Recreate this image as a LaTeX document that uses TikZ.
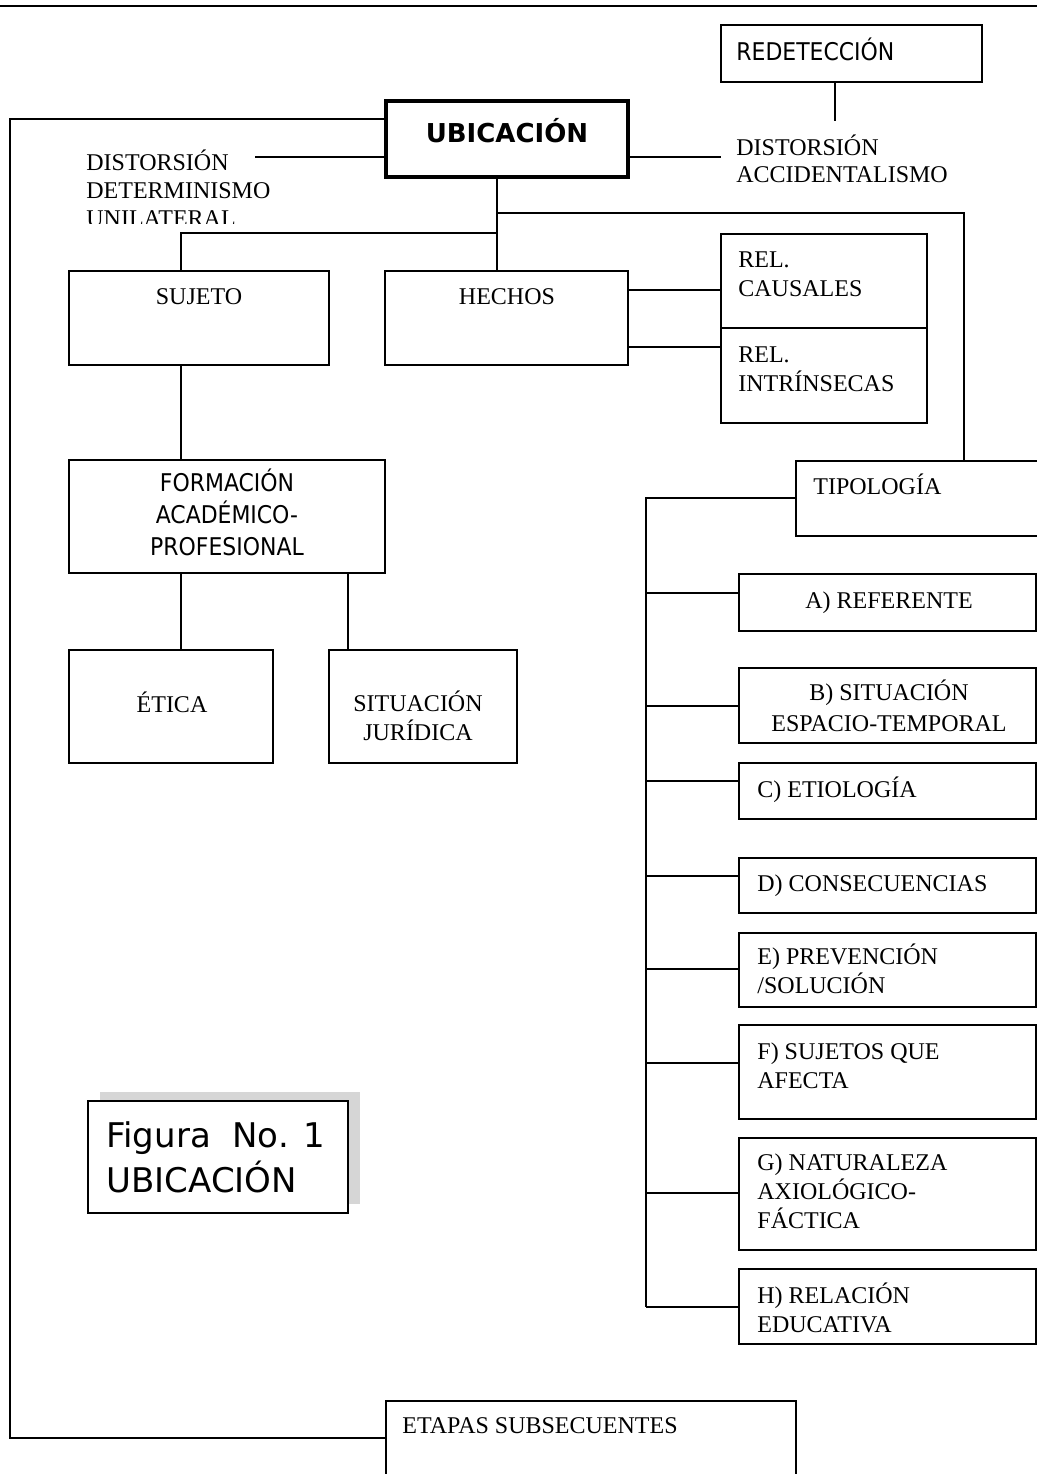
\documentclass[tikz,border=0pt]{standalone}
\usepackage{fontspec}
\setmainfont{Liberation Serif}
\newfontfamily\condsans{DejaVu Sans Condensed}
\newfontfamily\widesans{DejaVu Sans}
\usetikzlibrary{fit}

\begin{document}
\begin{tikzpicture}[x=0.5pt,y=-0.5pt,
  box/.style={draw, line width=0.8pt, inner sep=0pt},
  link/.style={line width=0.8pt},
  lbl/.style={inner sep=0pt, anchor=base west, align=left,
    font=\fontsize{12}{14.5}\selectfont},
  clbl/.style={lbl, anchor=base, align=center},
  slbl/.style={inner sep=0pt, anchor=base west, align=left,
    font=\condsans\fontsize{12.2}{16}\selectfont},
  sclbl/.style={slbl, anchor=base, align=center}]

\useasboundingbox (0,0) rectangle (1037,1474);
\fill[white] (0,0) rectangle (1037,1474);
\clip (0,0) rectangle (1037,1474);

% page rule
\coordinate (ruleL) at (0,6);
\coordinate (ruleR) at (1037,6);
\draw[line width=1.3pt] (ruleL) -- (ruleR);

% boxes
\node[box, fit={(721,25) (982,82)}] (redet) {};
\node[box, line width=2pt, fit={(386,101) (628,177)}] (ubic) {};
\node[box, fit={(69,271) (329,365)}] (sujeto) {};
\node[box, fit={(385,271) (628,365)}] (hechos) {};
\node[box, fit={(721,234) (927,328)}] (relc) {};
\node[box, fit={(721,328) (927,423)}] (reli) {};
\node[box, fit={(69,460) (385,573)}] (formac) {};
\node[box, fit={(69,650) (273,763)}] (etica) {};
\node[box, fit={(329,650) (517,763)}] (sitj) {};
\node[box, fit={(796,461) (1050,536)}] (tipo) {};
\node[box, fit={(739,574) (1036,631)}] (tA) {};
\node[box, fit={(739,668) (1036,743)}] (tB) {};
\node[box, fit={(739,763) (1036,819)}] (tC) {};
\node[box, fit={(739,858) (1036,913)}] (tD) {};
\node[box, fit={(739,933) (1036,1007)}] (tE) {};
\node[box, fit={(739,1025) (1036,1119)}] (tF) {};
\node[box, fit={(739,1138) (1036,1250)}] (tG) {};
\node[box, fit={(739,1269) (1036,1344)}] (tH) {};
\node[box, fit={(386,1401) (796,1490)}] (etapas) {};

% caption box with its shadow
\node[fill=gray!32, inner sep=0pt, fit={(100,1092) (360,1204)}] (figshadow) {};
\node[box, fill=white, fit={(88,1101) (348,1213)}] (figbox) {};

% junction points
\coordinate (cTL) at (10,119);
\coordinate (cBL) at (10,1438);
\coordinate (dl) at (255,157);
\coordinate (dr) at (721,157);
\coordinate (rv) at (835,121);
\coordinate (jR) at (497,213);
\coordinate (jT) at (964,213);
\coordinate (jL) at (497,233);
\coordinate (xS) at (181,233);
\coordinate (xJ) at (348,600);
\coordinate (yC) at (700,290);
\coordinate (yI) at (700,347);
\coordinate (sp) at (646,498);

% connectors
\draw[link] (ubic.west |- cTL) -- (cTL) |- (etapas.west |- cBL);
\draw[link] (dl) -- (dl -| ubic.west);
\draw[link] (dr -| ubic.east) -- (dr);
\draw[link] (rv |- redet.south) -- (rv);
\draw[link] (ubic.south -| jR) -- (hechos.north -| jR);
\draw[link] (jR) -- (jT) -- (jT |- tipo.north);
\draw[link] (jL) -- (xS) -- (xS |- sujeto.north);
\draw[link] (sujeto.south -| xS) -- (formac.north -| xS);
\draw[link] (formac.south -| xS) -- (etica.north -| xS);
\draw[link] (formac.south -| xJ) -- (sitj.north -| xJ);
\draw[link] (hechos.east |- yC) -- (relc.west |- yC);
\draw[link] (hechos.east |- yI) -- (reli.west |- yI);
\draw[link] (tipo.west |- sp) -- (sp) -- (sp |- 0,1307);
\foreach \b/\yy in {tA/593, tB/706, tC/781, tD/876, tE/969, tF/1063, tG/1193, tH/1307}
  \draw[link] (sp |- 0,\yy) -- (\b.west |- 0,\yy);

% texts (multi-line labels are placed by the baseline of their last line)
\node[slbl] (redetT) at (736,60) {REDETECCIÓN};
\node[inner sep=0pt, anchor=base, font=\widesans\bfseries\fontsize{13}{15}\selectfont]
  (ubicT) at (507,142) {UBICACIÓN};
\node[lbl, font=\fontsize{12}{13.5}\selectfont] (distR) at (736,182) {DISTORSIÓN\\ACCIDENTALISMO};
\begin{scope}
  \clip (0,130) rectangle (380,223);
  \node[lbl, font=\fontsize{12}{14}\selectfont] (distL) at (86,226) {DISTORSIÓN\\DETERMINISMO\\UNILATERAL};
\end{scope}
\node[clbl] (sujetoT) at (199,304) {SUJETO};
\node[clbl] (hechosT) at (507,304) {HECHOS};
\node[lbl] (relcT) at (738,296) {REL.\\CAUSALES};
\node[lbl] (reliT) at (738,391) {REL.\\INTRÍNSECAS};
\node[sclbl] (formacT) at (227,555) {FORMACIÓN\\ACADÉMICO-\\PROFESIONAL};
\node[clbl] (eticaT) at (172,712) {ÉTICA};
\node[clbl] (sitjT) at (418,740) {SITUACIÓN\\JURÍDICA};
\node[lbl] (tipoT) at (813,494) {TIPOLOGÍA};
\node[clbl] (tAT) at (889,608) {A) REFERENTE};
\node[clbl, font=\fontsize{12}{15.5}\selectfont] (tBT) at (889,731) {B) SITUACIÓN\\ESPACIO-TEMPORAL};
\node[lbl] (tCT) at (757,797) {C) ETIOLOGÍA};
\node[lbl] (tDT) at (757,891) {D) CONSECUENCIAS};
\node[lbl] (tET) at (757,993) {E) PREVENCIÓN\\/SOLUCIÓN};
\node[lbl] (tFT) at (757,1088) {F) SUJETOS QUE\\AFECTA};
\node[lbl] (tGT) at (757,1228) {G) NATURALEZA\\AXIOLÓGICO-\\FÁCTICA};
\node[lbl] (tHT) at (757,1332) {H) RELACIÓN\\EDUCATIVA};
\node[lbl] (etapasT) at (402,1433) {ETAPAS SUBSECUENTES};
\node[inner sep=0pt, anchor=base west, align=left,
  font=\widesans\fontsize{17}{22.5}\selectfont]
  (figT) at (106,1192) {Figura\ \ No. 1\\UBICACIÓN};
\end{tikzpicture}
\end{document}
